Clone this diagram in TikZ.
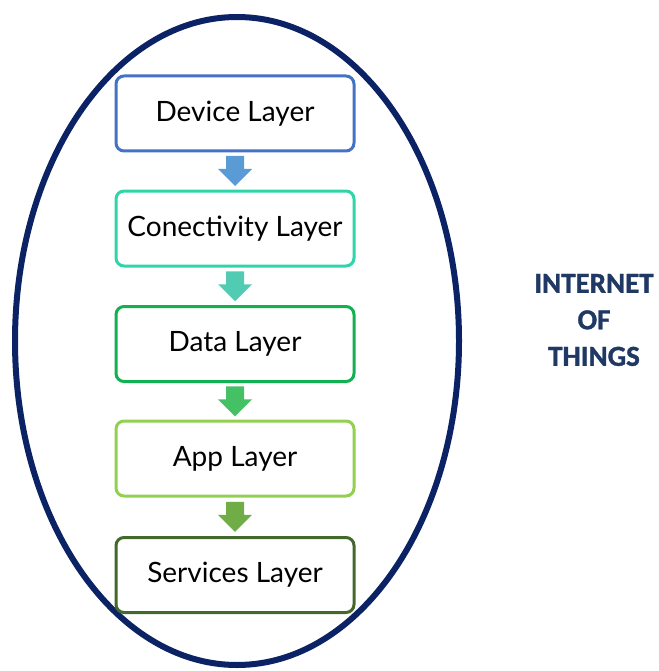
\documentclass[tikz,border=0pt]{standalone}
\usepackage{fontspec}
\setmainfont{Lato}
\newfontfamily\iotfont{Carlito}[BoldFeatures={FakeBold=1.2}]
\usetikzlibrary{calc}
\definecolor{navy}{HTML}{0B2265}
\definecolor{iottext}{HTML}{1F3864}
\definecolor{cDev}{HTML}{4472C4}
\definecolor{aDev}{HTML}{5B9BD5}
\definecolor{cCon}{HTML}{2DD5A8}
\definecolor{aCon}{HTML}{52CBB3}
\definecolor{cDat}{HTML}{12B150}
\definecolor{aDat}{HTML}{44C065}
\definecolor{cApp}{HTML}{92D050}
\definecolor{aApp}{HTML}{70AD47}
\definecolor{cSer}{HTML}{43682B}
\tikzset{
  layerbox/.style={draw=#1, line width=3pt, rounded corners=8pt, fill=white,
    minimum width=238pt, minimum height=75pt, inner sep=0pt, font=\fontsize{28}{32}\selectfont}
}
\newcommand\blockarrow[2]{%
  \fill[#2] ($(#1)+(-9,-15)$) -- ($(#1)+(9,-15)$) -- ($(#1)+(9,-2)$) -- ($(#1)+(17,-2)$)
    -- ($(#1)+(0,15)$) -- ($(#1)+(-17,-2)$) -- ($(#1)+(-9,-2)$) -- cycle;}
\begin{document}
\begin{tikzpicture}[x=1pt,y=-1pt]
\useasboundingbox (0,0) rectangle (658,671);
\draw[navy, line width=6pt] (237,341) ellipse [x radius=222, y radius=324];
\node[layerbox=cDev] (dev) at (235,113.5) {Device Layer};
\node[layerbox=cCon] (con) at (235,228.5) {Conectivity Layer};
\node[layerbox=cDat] (dat) at (235,344) {Data Layer};
\node[layerbox=cApp] (app) at (235,458.5) {App Layer};
\node[layerbox=cSer] (ser) at (235,575) {Services Layer};
\coordinate (m1) at ($(dev.south)!0.5!(con.north)$);
\coordinate (m2) at ($(con.south)!0.5!(dat.north)$);
\coordinate (m3) at ($(dat.south)!0.5!(app.north)$);
\coordinate (m4) at ($(app.south)!0.5!(ser.north)$);
\blockarrow{m1}{aDev}
\blockarrow{m2}{aCon}
\blockarrow{m3}{aDat}
\blockarrow{m4}{aApp}
\node[font=\iotfont\bfseries\fontsize{29}{36.5}\selectfont, text=iottext, align=center] (iot) at (594,320) {INTERNET\\OF\\THINGS};
\end{tikzpicture}
\end{document}
